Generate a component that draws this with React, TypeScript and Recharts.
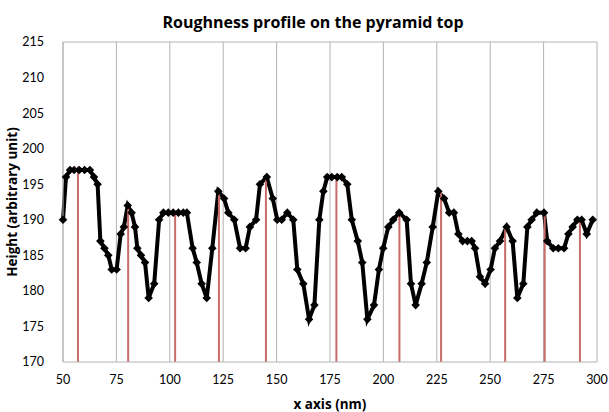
import React from 'react';
import { LineChart, Line, XAxis, YAxis, CartesianGrid, ReferenceLine } from 'recharts';

const xPositions = [
  50, 51.4, 53.3, 55.2, 57.6, 60.1, 62.6, 64.5, 66.2, 67.5, 69.4, 71.2, 72.8, 75.1, 77, 78.5, 80.3, 82.1, 83.7, 84.8,
  86.5, 88.4, 90.1, 92.7, 95, 97, 99.3, 101.6, 104, 106.3, 108, 110.7, 112.6, 114.9, 117.3, 119.9, 122.7, 125.4, 127.4, 130.2,
  132.9, 135.5, 137.5, 140.4, 142.2, 145.4, 148.2, 150.3, 152.4, 155, 157.8, 159.7, 162.5, 165.2, 167.7, 170, 171.9, 173.7, 175.8, 178.4,
  180.5, 183.1, 185.2, 188, 190.1, 192.5, 195.6, 197.9, 199.9, 202.3, 204.6, 207.4, 210.9, 212.9, 215.1, 217.9, 220.3, 223.1, 225.7, 228.4,
  230.8, 233, 235.1, 237.1, 239.3, 241.3, 242.9, 245.2, 247.6, 250.2, 252.2, 254.6, 257.7, 260.5, 262.7, 265.5, 267.4, 269.4, 271.8, 275.2,
  276.7, 279.5, 281.9, 284.6, 286.6, 288.6, 290.8, 292.8, 295.2, 298,
];

const heights = [
  190, 196, 197, 197, 197, 197, 197, 196, 195, 187, 186, 185, 183, 183, 188, 189, 192, 191, 189, 186,
  185, 184, 179, 181, 190, 191, 191, 191, 191, 191, 191, 186, 184, 181, 179, 186, 194, 193, 191, 190,
  186, 186, 189, 190, 195, 196, 193, 190, 190, 191, 190, 183, 181, 176, 178, 190, 194, 196, 196, 196,
  196, 195, 190, 187, 184, 176, 178, 183, 186, 189, 190, 191, 190, 181, 178, 181, 184, 189, 194, 193,
  191, 191, 188, 187, 187, 187, 186, 182, 181, 183, 186, 187, 189, 187, 179, 181, 189, 190, 191, 191,
  187, 186, 186, 186, 188, 189, 190, 190, 188, 190,
];

const peakX = [57, 80.5, 102.5, 123, 145, 178, 207.5, 227, 257, 275.5, 292];
const peakTop = [197.5, 192, 191, 194, 196, 196, 191, 194, 189, 191, 190];

const xTicks = [50, 75, 100, 125, 150, 175, 200, 225, 250, 275, 300];
const yTicks = [170, 175, 180, 185, 190, 195, 200, 205, 210, 215];

const data = xPositions.map((x, i) => ({ x, h: heights[i] }));

const TICK_FONT = 'Lato, "DejaVu Sans", sans-serif';
const LABEL_FONT = '"Open Sans", Lato, sans-serif';

const Diamond = (props: any) => {
  const { cx, cy, index } = props;
  if (cx == null || cy == null) return <g key={`d-${index}`} />;
  const r = 4.3;
  return (
    <polygon
      key={`d-${index}`}
      points={`${cx},${cy - r} ${cx + r},${cy} ${cx},${cy + r} ${cx - r},${cy}`}
      fill="#000"
    />
  );
};

export default function App() {
  return (
    <div style={{ position: 'absolute', left: 0, top: 0, width: 609, height: 412, background: '#fff' }}>
      <div
        style={{
          position: 'absolute',
          left: 0,
          top: 12,
          width: 626,
          textAlign: 'center',
          fontFamily: LABEL_FONT,
          fontWeight: 700,
          fontSize: 16,
          lineHeight: '20px',
          color: '#000',
          whiteSpace: 'nowrap',
        }}
      >
        Roughness profile on the pyramid top
      </div>
      <LineChart
        width={609}
        height={412}
        data={data}
        margin={{ top: 42, right: 12, bottom: 20, left: 0 }}
      >
        <CartesianGrid horizontal={false} vertical={true} stroke="#b3b3b3" strokeWidth={1} />
        <XAxis
          type="number"
          dataKey="x"
          domain={[50, 300]}
          ticks={xTicks}
          height={30}
          tickLine={false}
          axisLine={{ stroke: '#b3b3b3' }}
          tick={{ fill: '#000', fontSize: 12.5, fontFamily: TICK_FONT }}
          tickMargin={7}
          label={{ value: 'x axis (nm)', position: 'center', dy: 27, fill: '#000', fontSize: 13.5, fontWeight: 700, fontFamily: LABEL_FONT }}
        />
        <YAxis
          type="number"
          domain={[170, 215]}
          ticks={yTicks}
          width={63}
          tickLine={false}
          axisLine={{ stroke: '#b3b3b3' }}
          tick={{ fill: '#000', fontSize: 12.5, fontFamily: TICK_FONT }}
          tickMargin={13}
          label={{ value: 'Height (arbitrary unit)', angle: -90, position: 'center', dx: -19, fill: '#000', fontSize: 13.5, fontWeight: 700, fontFamily: LABEL_FONT }}
        />
        <ReferenceLine y={215} stroke="#b3b3b3" strokeWidth={1} />
        <Line
          type="linear"
          dataKey="h"
          stroke="#000"
          strokeWidth={4}
          dot={Diamond}
          activeDot={false}
          isAnimationActive={false}
        />
        {peakX.map((x, i) => (
          <ReferenceLine
            key={`p-${i}`}
            segment={[{ x, y: 170 }, { x, y: peakTop[i] }]}
            stroke="#c96b68"
            strokeWidth={2}
          />
        ))}
      </LineChart>
    </div>
  );
}
